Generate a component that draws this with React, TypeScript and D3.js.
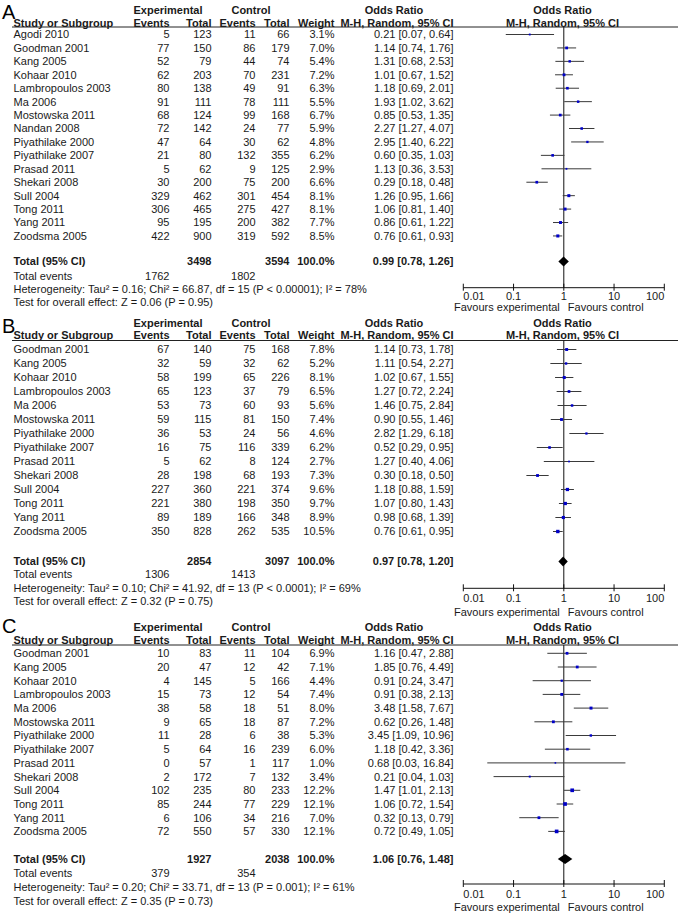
import React from "react";
import * as d3 from "d3";

// ---------- DATA ----------
const studiesA = ["Agodi 2010","Goodman 2001","Kang 2005","Kohaar 2010","Lambropoulos 2003","Ma 2006","Mostowska 2011","Nandan 2008","Piyathilake 2000","Piyathilake 2007","Prasad 2011","Shekari 2008","Sull 2004","Tong 2011","Yang 2011","Zoodsma 2005"];
const expEventsA = [5,77,52,62,80,91,68,72,47,21,5,30,329,306,95,422];
const expTotalA = [123,150,79,203,138,111,124,142,64,80,62,200,462,465,195,900];
const ctrlEventsA = [11,86,44,70,49,78,99,24,30,132,9,75,301,275,200,319];
const ctrlTotalA = [66,179,74,231,91,111,168,77,62,355,125,200,454,427,382,592];
const weightA = [3.1,7.0,5.4,7.2,6.3,5.5,6.7,5.9,4.8,6.2,2.9,6.6,8.1,8.1,7.7,8.5];
const orA = [0.21,1.14,1.31,1.01,1.18,1.93,0.85,2.27,2.95,0.60,1.13,0.29,1.26,1.06,0.86,0.76];
const lowA = [0.07,0.74,0.68,0.67,0.69,1.02,0.53,1.27,1.40,0.35,0.36,0.18,0.95,0.81,0.61,0.61];
const highA = [0.64,1.76,2.53,1.52,2.01,3.62,1.35,4.07,6.22,1.03,3.53,0.48,1.66,1.40,1.22,0.93];
const totalsA = { expTotal: 3498, ctrlTotal: 3594, expEvents: 1762, ctrlEvents: 1802, or: 0.99, low: 0.78, high: 1.26 };
const hetA = "Heterogeneity: Tau² = 0.16; Chi² = 66.87, df = 15 (P < 0.00001); I² = 78%";
const testA = "Test for overall effect: Z = 0.06 (P = 0.95)";

const studiesBC = ["Goodman 2001","Kang 2005","Kohaar 2010","Lambropoulos 2003","Ma 2006","Mostowska 2011","Piyathilake 2000","Piyathilake 2007","Prasad 2011","Shekari 2008","Sull 2004","Tong 2011","Yang 2011","Zoodsma 2005"];

const expEventsB = [67,32,58,65,53,59,36,16,5,28,227,221,89,350];
const expTotalB = [140,59,199,123,73,115,53,75,62,198,360,380,189,828];
const ctrlEventsB = [75,32,65,37,60,81,24,116,8,68,221,198,166,262];
const ctrlTotalB = [168,62,226,79,93,150,56,339,124,193,374,350,348,535];
const weightB = [7.8,5.2,8.1,6.5,5.6,7.4,4.6,6.2,2.7,7.3,9.6,9.7,8.9,10.5];
const orB = [1.14,1.11,1.02,1.27,1.46,0.90,2.82,0.52,1.27,0.30,1.18,1.07,0.98,0.76];
const lowB = [0.73,0.54,0.67,0.72,0.75,0.55,1.29,0.29,0.40,0.18,0.88,0.80,0.68,0.61];
const highB = [1.78,2.27,1.55,2.24,2.84,1.46,6.18,0.95,4.06,0.50,1.59,1.43,1.39,0.95];
const totalsB = { expTotal: 2854, ctrlTotal: 3097, expEvents: 1306, ctrlEvents: 1413, or: 0.97, low: 0.78, high: 1.20 };
const hetB = "Heterogeneity: Tau² = 0.10; Chi² = 41.92, df = 13 (P < 0.0001); I² = 69%";
const testB = "Test for overall effect: Z = 0.32 (P = 0.75)";

const expEventsC = [10,20,4,15,38,9,11,5,0,2,102,85,6,72];
const expTotalC = [83,47,145,73,58,65,28,64,57,172,235,244,106,550];
const ctrlEventsC = [11,12,5,12,18,18,6,16,1,7,80,77,34,57];
const ctrlTotalC = [104,42,166,54,51,87,38,239,117,132,233,229,216,330];
const weightC = [6.9,7.1,4.4,7.4,8.0,7.2,5.3,6.0,1.0,3.4,12.2,12.1,7.0,12.1];
const orC = [1.16,1.85,0.91,0.91,3.48,0.62,3.45,1.18,0.68,0.21,1.47,1.06,0.32,0.72];
const lowC = [0.47,0.76,0.24,0.38,1.58,0.26,1.09,0.42,0.03,0.04,1.01,0.72,0.13,0.49];
const highC = [2.88,4.49,3.47,2.13,7.67,1.48,10.96,3.36,16.84,1.03,2.13,1.54,0.79,1.05];
const totalsC = { expTotal: 1927, ctrlTotal: 2038, expEvents: 379, ctrlEvents: 354, or: 1.06, low: 0.76, high: 1.48 };
const hetC = "Heterogeneity: Tau² = 0.20; Chi² = 33.71, df = 13 (P = 0.001); I² = 61%";
const testC = "Test for overall effect: Z = 0.35 (P = 0.73)";

const axisTicks = [0.01, 0.1, 1, 10, 100];
const axisTickLabels = ["0.01", "0.1", "1", "10", "100"];

// ---------- LAYOUT ----------
const FONT = "'Liberation Sans', Arial, Helvetica, sans-serif";
const FS = 11;
const TXT = "#1a1a1a";
const X = {
  name: 13.5, expEv: 169.5, expTot: 211.5, ctrlEv: 255.5, ctrlTot: 289.5, weight: 334.5,
  expHead: 168, ctrlHead: 251, orHead: 394, orTextEnd: 453.5, plotHead: 562.5,
  lineStart: 12, lineEnd: 678,
};
const xScale = d3.scaleLog().domain([0.01, 100]).range([463.3, 664.3]);

type Layout = {
  letter: string; letterY: number; h1: number; h2: number; line: number; first: number; step: number;
  total: number; events: number; het: number; test: number; axis: number; tick: number; fav: number;
};

const layoutA: Layout = { letter: "A", letterY: 18.5, h1: 10, h2: 23.3, line: 27, first: 34.5, step: 13.43, total: 261.5, events: 275.7, het: 289, test: 302.3, axis: 287.7, tick: 296.2, fav: 307.2 };
const layoutB: Layout = { letter: "B", letterY: 333, h1: 322.7, h2: 335.5, line: 340.5, first: 349.5, step: 14.0, total: 561.5, events: 574.5, het: 588, test: 601.5, axis: 588.3, tick: 598.5, fav: 612.3 };
const layoutC: Layout = { letter: "C", letterY: 633, h1: 626.7, h2: 640, line: 645, first: 653.3, step: 13.7, total: 859, events: 873.3, het: 886.8, test: 901.2, axis: 884, tick: 893.8, fav: 907 };

const fmt2 = (v: number) => v.toFixed(2);
const ciText = (o: number, l: number, h: number) => `${fmt2(o)} [${fmt2(l)}, ${fmt2(h)}]`;

type PanelProps = {
  layout: Layout; studies: string[]; expEvents: number[]; expTotal: number[]; ctrlEvents: number[]; ctrlTotal: number[];
  weight: number[]; or: number[]; low: number[]; high: number[];
  totals: { expTotal: number; ctrlTotal: number; expEvents: number; ctrlEvents: number; or: number; low: number; high: number };
  het: string; test: string;
};

function T(props: any) {
  const { x, cy, anchor = "start", bold = false, children, size = FS, fill = TXT } = props;
  return (
    <text x={x} y={cy + size * 0.36} textAnchor={anchor} fontFamily={FONT} fontSize={size}
      fontWeight={bold ? "bold" : "normal"} fill={fill}>{children}</text>
  );
}

function Panel(p: PanelProps) {
  const L = p.layout;
  const rowY = (i: number) => L.first + i * L.step;
  const x1 = xScale(1);
  const dTop = L.total - 5, dBot = L.total + 5;
  const diamond = `M${xScale(p.totals.low)},${L.total} L${xScale(p.totals.or)},${dTop} L${xScale(p.totals.high)},${L.total} L${xScale(p.totals.or)},${dBot} Z`;
  return (
    <g>
      <text x={2} y={L.letterY} fontFamily={FONT} fontSize={20} fill="#000" fontWeight={300}>{L.letter}</text>
      {/* headers */}
      <T x={X.expHead} cy={L.h1} anchor="middle" bold>Experimental</T>
      <T x={X.ctrlHead} cy={L.h1} anchor="middle" bold>Control</T>
      <T x={X.orHead} cy={L.h1} anchor="middle" bold>Odds Ratio</T>
      <T x={X.plotHead} cy={L.h1} anchor="middle" bold>Odds Ratio</T>
      <T x={X.name} cy={L.h2} bold>Study or Subgroup</T>
      <T x={X.expEv} cy={L.h2} anchor="end" bold>Events</T>
      <T x={X.expTot} cy={L.h2} anchor="end" bold>Total</T>
      <T x={X.ctrlEv} cy={L.h2} anchor="end" bold>Events</T>
      <T x={X.ctrlTot} cy={L.h2} anchor="end" bold>Total</T>
      <T x={X.weight} cy={L.h2} anchor="end" bold>Weight</T>
      <T x={X.orTextEnd} cy={L.h2} anchor="end" bold>M-H, Random, 95% CI</T>
      <T x={X.plotHead} cy={L.h2} anchor="middle" bold>M-H, Random, 95% CI</T>
      <line x1={X.lineStart} x2={X.lineEnd} y1={L.line} y2={L.line} stroke="#222" strokeWidth={1} />
      {/* reference line */}
      <line x1={x1} x2={x1} y1={L.line} y2={L.axis} stroke="#111" strokeWidth={1} />
      {/* rows */}
      {p.studies.map((s, i) => {
        const y = rowY(i);
        const side = Math.max(1.6, Math.sqrt(p.weight[i]) * 1.05);
        return (
          <g key={s}>
            <T x={X.name} cy={y}>{s}</T>
            <T x={X.expEv} cy={y} anchor="end">{p.expEvents[i]}</T>
            <T x={X.expTot} cy={y} anchor="end">{p.expTotal[i]}</T>
            <T x={X.ctrlEv} cy={y} anchor="end">{p.ctrlEvents[i]}</T>
            <T x={X.ctrlTot} cy={y} anchor="end">{p.ctrlTotal[i]}</T>
            <T x={X.weight} cy={y} anchor="end">{p.weight[i].toFixed(1)}%</T>
            <T x={X.orTextEnd} cy={y} anchor="end">{ciText(p.or[i], p.low[i], p.high[i])}</T>
            <line x1={xScale(p.low[i])} x2={xScale(p.high[i])} y1={y} y2={y} stroke="#3a3a3a" strokeWidth={1} />
            <rect x={xScale(p.or[i]) - side / 2} y={y - side / 2} width={side} height={side} fill="#0000c8" />
          </g>
        );
      })}
      {/* totals */}
      <T x={X.name} cy={L.total} bold>Total (95% CI)</T>
      <T x={X.expTot} cy={L.total} anchor="end" bold>{p.totals.expTotal}</T>
      <T x={X.ctrlTot} cy={L.total} anchor="end" bold>{p.totals.ctrlTotal}</T>
      <T x={X.weight} cy={L.total} anchor="end" bold>100.0%</T>
      <T x={X.orTextEnd} cy={L.total} anchor="end" bold>{ciText(p.totals.or, p.totals.low, p.totals.high)}</T>
      <path d={diamond} fill="#000" />
      <T x={X.name} cy={L.events}>Total events</T>
      <T x={X.expEv} cy={L.events} anchor="end">{p.totals.expEvents}</T>
      <T x={X.ctrlEv} cy={L.events} anchor="end">{p.totals.ctrlEvents}</T>
      <T x={X.name} cy={L.het}>{p.het}</T>
      <T x={X.name} cy={L.test}>{p.test}</T>
      {/* axis */}
      <line x1={xScale(0.01)} x2={xScale(100)} y1={L.axis} y2={L.axis} stroke="#111" strokeWidth={1} />
      {axisTicks.map((t, i) => (
        <g key={t}>
          <line x1={xScale(t)} x2={xScale(t)} y1={L.axis - 4} y2={L.axis + 3} stroke="#111" strokeWidth={1} />
          <T x={xScale(t)} cy={L.tick} anchor={i === 0 ? "start" : i === axisTicks.length - 1 ? "end" : "middle"}>{axisTickLabels[i]}</T>
        </g>
      ))}
      <T x={x1 - 4} cy={L.fav} anchor="end">Favours experimental</T>
      <T x={x1 + 4} cy={L.fav} anchor="start">Favours control</T>
    </g>
  );
}

export default function App() {
  return (
    <div>
      <style>{"body{margin:0;}"}</style>
      <svg width={678} height={916} style={{ display: "block", background: "#fff" }}>
        <rect width={678} height={916} fill="#fff" />
        <Panel layout={layoutA} studies={studiesA} expEvents={expEventsA} expTotal={expTotalA} ctrlEvents={ctrlEventsA}
          ctrlTotal={ctrlTotalA} weight={weightA} or={orA} low={lowA} high={highA} totals={totalsA} het={hetA} test={testA} />
        <Panel layout={layoutB} studies={studiesBC} expEvents={expEventsB} expTotal={expTotalB} ctrlEvents={ctrlEventsB}
          ctrlTotal={ctrlTotalB} weight={weightB} or={orB} low={lowB} high={highB} totals={totalsB} het={hetB} test={testB} />
        <Panel layout={layoutC} studies={studiesBC} expEvents={expEventsC} expTotal={expTotalC} ctrlEvents={ctrlEventsC}
          ctrlTotal={ctrlTotalC} weight={weightC} or={orC} low={lowC} high={highC} totals={totalsC} het={hetC} test={testC} />
      </svg>
    </div>
  );
}
